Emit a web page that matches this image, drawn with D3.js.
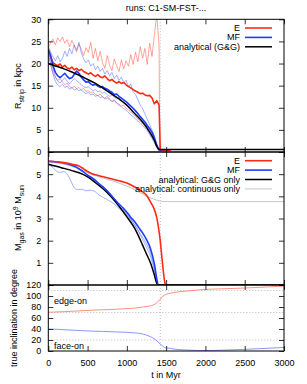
<!DOCTYPE html>
<html>
<head>
<meta charset="utf-8">
<script src="https://cdn.jsdelivr.net/npm/d3@7"></script>
<style>
body { margin: 0; background: #fff; }
text { font-family: "Liberation Sans", Arial, sans-serif; font-size: 9px; fill: #000; }
</style>
</head>
<body>
<svg width="307" height="384"></svg>
<script>
// ---- top panel: stripping radius (kpc), sampled every 30 Myr ----
const tTop = [0, 30, 60, 90, 120, 150, 180, 210, 240, 270, 300, 330, 360, 390, 420, 450,
    480, 510, 540, 570, 600, 630, 660, 690, 720, 750, 780, 810, 840, 870, 900, 930,
    960, 990, 1020, 1050, 1080, 1110, 1140, 1170, 1200, 1230, 1260, 1290, 1320, 1350, 1380, 1410];

const rE = [23.0, 21.5, 20.2, 19.8, 19.5, 19.9, 19.2, 19.6, 19.0, 18.8, 19.2, 18.6, 18.9, 18.4, 18.7, 18.2,
    17.9, 17.6, 17.9, 17.4, 17.1, 17.5, 17.0, 16.8, 17.2, 16.6, 16.1, 16.4, 15.9, 15.6, 15.9, 15.5,
    15.7, 15.2, 14.8, 14.5, 14.1, 13.8, 13.5, 13.2, 13.3, 12.9, 12.7, 12.8, 12.2, 10.9, 11.6, 10.6];
const rEThinHi = [23.5, 24.8, 25.5, 24.2, 25.8, 25.0, 26.0, 24.6, 25.4, 23.8, 25.2, 24.0, 22.6, 24.4, 23.2, 21.8,
    23.6, 22.5, 24.8, 21.2, 23.4, 20.6, 22.8, 20.2, 18.9, 21.8, 19.6, 18.4, 21.0, 19.5, 18.2, 20.8,
    18.8, 20.6, 19.4, 22.0, 19.8, 22.6, 20.4, 23.8, 21.2, 23.4, 19.8, 24.6, 21.6, 26.4, 31.0, 24.0];
const rEThinLo = [22.0, 19.5, 17.8, 16.9, 16.2, 16.6, 15.8, 15.2, 15.6, 14.8, 14.4, 14.9, 14.3, 14.6, 14.0, 14.4,
    13.7, 13.9, 13.3, 13.6, 13.0, 12.7, 13.1, 12.5, 12.2, 12.6, 11.9, 11.5, 11.8, 11.1, 10.8, 10.4,
    10.6, 9.9, 9.5, 9.0, 8.6, 8.0, 7.5, 7.0, 6.4, 5.9, 5.2, 4.6, 3.8, 2.8, 1.4, 0.4];
const rMF = [23.2, 21.8, 19.5, 18.0, 17.2, 16.8, 17.3, 17.8, 17.1, 16.6, 16.8, 17.5, 18.3, 17.8, 16.9, 16.3,
    15.8, 15.9, 15.4, 15.1, 15.3, 14.9, 14.6, 14.8, 14.4, 14.2, 13.8, 13.5, 13.0, 13.1, 12.6, 12.2,
    11.8, 11.4, 10.9, 10.4, 9.9, 9.3, 8.7, 8.0, 7.4, 6.8, 6.0, 5.3, 4.5, 3.2, 1.6, 0.5];
const rMFThinA = [23.8, 22.6, 21.5, 20.6, 21.8, 20.4, 21.2, 22.8, 21.6, 23.4, 22.2, 24.2, 23.0, 24.8, 22.4, 21.0,
    20.2, 20.8, 19.4, 20.0, 18.6, 19.4, 18.2, 18.9, 17.6, 18.4, 17.2, 18.0, 16.6, 17.4, 16.2, 16.9,
    15.6, 16.2, 14.8, 15.4, 13.6, 13.0, 11.8, 10.6, 9.8, 8.6, 7.4, 6.2, 5.0, 3.6, 1.6, 0.4];
const rMFThinB = [22.2, 20.0, 17.6, 16.0, 15.2, 14.8, 15.3, 14.6, 14.9, 14.2, 14.6, 14.0, 14.3, 13.8, 14.1, 13.5,
    13.2, 13.5, 12.9, 13.1, 12.6, 12.8, 12.3, 12.5, 12.0, 12.2, 11.8, 11.4, 11.6, 11.0, 10.6, 10.2,
    9.8, 9.5, 9.0, 8.4, 8.0, 7.5, 7.0, 6.6, 6.0, 5.4, 4.8, 3.9, 3.0, 2.1, 1.0, 0.3];
const rMFThinC = [22.8, 21.0, 18.8, 17.0, 16.0, 15.6, 16.2, 16.8, 16.0, 15.4, 16.0, 16.6, 16.1, 15.7, 15.2, 14.8,
    14.5, 14.8, 14.2, 13.9, 14.1, 13.6, 13.8, 13.3, 13.5, 13.0, 12.6, 12.9, 12.4, 12.0, 12.3, 11.6,
    11.2, 11.5, 10.8, 10.2, 9.7, 9.1, 8.6, 7.8, 7.3, 6.6, 5.8, 5.1, 4.2, 3.0, 1.4, 0.3];

// values after the drop
const rETail = [[1425, 0.4], [1440, 0.4], [1560, 0.4]];
const rEThinHiTail = [[1418, 0.3]];
const rMFTail = [[1450, 0.4]];

const rAnalytic = [[0, 20.0], [100, 19.4], [200, 18.8], [300, 18.1], [400, 17.3], [500, 16.4],
    [600, 15.5], [700, 14.4], [800, 13.2], [900, 12.0], [1000, 10.6], [1100, 8.7], [1200, 6.8],
    [1250, 5.6], [1300, 4.2], [1350, 2.6], [1380, 1.3], [1400, 0.7], [1420, 0.55], [3000, 0.55]];

// ---- middle panel: gas mass (1e9 Msun) ----
const mE = [[0, 5.58], [100, 5.56], [200, 5.52], [300, 5.45], [400, 5.35], [450, 5.24], [500, 5.12],
    [550, 5.03], [600, 4.97], [700, 4.88], [800, 4.79], [900, 4.70], [1000, 4.60], [1100, 4.42],
    [1200, 4.20], [1250, 4.05], [1300, 3.75], [1350, 3.40], [1380, 3.05], [1400, 2.65], [1420, 2.15],
    [1450, 1.10], [1475, 0.30], [1490, 0]];
const mMF = [[0, 5.58], [100, 5.55], [200, 5.50], [300, 5.40], [350, 5.33], [400, 5.22], [450, 5.10],
    [500, 4.95], [550, 4.85], [600, 4.72], [650, 4.55], [700, 4.42], [750, 4.25], [800, 4.05],
    [850, 3.85], [900, 3.65], [950, 3.48], [1000, 3.28], [1050, 3.05], [1100, 2.85], [1150, 2.60],
    [1200, 2.35], [1250, 2.05], [1300, 1.65], [1350, 0.95], [1380, 0.30], [1395, 0]];
const mMFThinA = [[0, 5.45], [60, 5.30], [100, 5.15], [150, 5.08], [200, 5.12], [250, 4.95], [300, 4.60],
    [330, 4.38], [380, 4.30], [430, 4.32], [480, 4.25], [530, 4.28], [600, 4.20], [650, 4.05],
    [700, 3.95], [750, 3.85], [800, 3.75], [850, 3.62], [900, 3.45], [950, 3.30], [1000, 3.15],
    [1050, 2.95], [1100, 2.70], [1150, 2.40], [1200, 2.05], [1250, 1.70], [1300, 1.30], [1350, 0.65],
    [1380, 0.15], [1390, 0]];
const mMFThinB = [[0, 5.55], [200, 5.45], [400, 5.20], [500, 4.95], [600, 4.70], [700, 4.40], [800, 4.00],
    [900, 3.55], [1000, 3.20], [1100, 2.70], [1200, 2.15], [1250, 1.85], [1300, 1.45], [1350, 0.75],
    [1390, 0]];
const mGG = [[0, 5.45], [100, 5.36], [200, 5.26], [300, 5.16], [400, 5.05], [500, 4.88], [600, 4.62],
    [700, 4.33], [800, 3.98], [900, 3.55], [1000, 3.08], [1100, 2.55], [1200, 1.80], [1250, 1.40],
    [1300, 1.00], [1350, 0.45], [1380, 0.08], [1400, 0], [3000, 0]];
const mCont = [[0, 5.58], [200, 5.52], [400, 5.33], [500, 5.05], [600, 4.93], [700, 4.82], [800, 4.72],
    [900, 4.60], [1000, 4.46], [1100, 4.30], [1200, 4.10], [1300, 3.93], [1380, 3.83], [1450, 3.77],
    [1500, 3.76], [3000, 3.76]];

// ---- bottom panel: inclination (degree) ----
const incEdge = [[0, 70.5], [200, 71.5], [400, 73], [600, 74.5], [800, 75.5], [1000, 77], [1100, 78],
    [1200, 80], [1300, 82], [1350, 84.5], [1400, 90], [1450, 98.5], [1500, 103], [1550, 105],
    [1600, 106.5], [1800, 109.5], [2000, 112], [2200, 113], [2500, 114.5], [2800, 116.5], [3000, 118]];
const incFace = [[0, 40], [100, 39.5], [300, 38], [500, 36.5], [700, 35.5], [900, 34.5], [1000, 34],
    [1100, 33], [1200, 31], [1300, 26], [1350, 22], [1400, 16], [1450, 9.5], [1500, 5.5], [1550, 5],
    [1600, 3.5], [1800, 1.5], [2000, 0.8], [2200, 1.5], [2500, 3], [2800, 5], [3000, 6.5]];

const xTicks = [0, 500, 1000, 1500, 2000, 2500, 3000];
const rTicks = [0, 5, 10, 15, 20, 25, 30];
const mTicks = [0, 1, 2, 3, 4, 5, 6];
const mTickLabels = [1, 2, 3, 4, 5];
const incTicks = [0, 20, 40, 60, 80, 100, 120];
const incGrid = [20, 70, 110];
const tPericentre = 1425;

const legendTop = ['E', 'MF', 'analytical (G&G)'];
const legendMid = ['E', 'MF', 'analytical: G&G only', 'analytical: continuous only'];

const red = '#ff2a14';
const redThin = 'rgba(255,90,70,0.6)';
const blue = '#1f3cff';
const blueThin = 'rgba(70,95,255,0.55)';
const grey = '#c4c4c4';

const svg = d3.select('svg');
const left = 48.3, right = 284;

const x = d3.scaleLinear().domain([0, 3000]).range([left, right]);
const yR = d3.scaleLinear().domain([0, 30]).range([152, 19.3]);
const yM = d3.scaleLinear().domain([0, 6]).range([285, 152]);
const yI = d3.scaleLinear().domain([0, 120]).range([351, 285]);

const zip = (ts, vs) => ts.map((t, i) => [t, vs[i]]);

function panel(id, y, yTicks, yLabels) {
    const top = y.range()[1], bottom = y.range()[0];
    svg.append('clipPath').attr('id', id)
        .append('rect')
        .attr('x', left).attr('y', top)
        .attr('width', right - left).attr('height', bottom - top);
    const g = svg.append('g');
    const plot = g.append('g').attr('clip-path', `url(#${id})`);

    // dotted vertical line at pericentre
    plot.append('line')
        .attr('x1', x(tPericentre)).attr('x2', x(tPericentre))
        .attr('y1', top).attr('y2', bottom)
        .attr('stroke', '#bbb')
        .attr('stroke-dasharray', '1,2');

    const axes = g.append('g');
    axes.append('g').attr('transform', `translate(${left},0)`)
        .call(d3.axisLeft(y).tickValues(yTicks).tickSize(-5).tickPadding(7)
            .tickFormat(d => yLabels.includes(d) ? d : ''));
    axes.append('g').attr('transform', `translate(${right},0)`)
        .call(d3.axisRight(y).tickValues(yTicks).tickSize(-5).tickFormat(''));
    axes.append('g').attr('transform', `translate(0,${top})`)
        .call(d3.axisTop(x).tickValues(xTicks).tickSize(-5).tickFormat(''));
    axes.append('g').attr('class', 'xaxis').attr('transform', `translate(0,${bottom})`)
        .call(d3.axisBottom(x).tickValues(xTicks).tickSize(-5).tickPadding(9).tickFormat(''));
    axes.selectAll('.domain').remove();
    axes.selectAll('.tick line').attr('stroke', '#000').attr('stroke-width', 0.8);
    axes.selectAll('.tick text').style('font-size', '9px').attr('fill', '#000')
        .style('font-family', '"Liberation Sans", Arial, sans-serif');

    g.append('rect')
        .attr('x', left).attr('y', top)
        .attr('width', right - left).attr('height', bottom - top)
        .attr('fill', 'none').attr('stroke', '#000').attr('stroke-width', 1);

    return { g, plot };
}

function addLine(parent, y, pts, color, width, curve) {
    parent.append('path')
        .datum(pts)
        .attr('fill', 'none')
        .attr('stroke', color)
        .attr('stroke-width', width)
        .attr('stroke-linejoin', 'round')
        .attr('d', d3.line().x(d => x(d[0])).y(d => y(d[1])).curve(curve || d3.curveLinear));
}

// ---- top ----
const pR = panel('clipR', yR, rTicks, rTicks);
addLine(pR.plot, yR, zip(tTop, rEThinHi).concat(rEThinHiTail), redThin, 0.9);
addLine(pR.plot, yR, zip(tTop, rEThinLo), redThin, 0.9);
addLine(pR.plot, yR, zip(tTop, rMFThinA), blueThin, 0.9);
addLine(pR.plot, yR, zip(tTop, rMFThinB), blueThin, 0.9);
addLine(pR.plot, yR, zip(tTop, rMFThinC), blueThin, 0.9);
addLine(pR.plot, yR, zip(tTop, rE).concat(rETail), red, 1.6);
addLine(pR.plot, yR, zip(tTop, rMF).concat(rMFTail), blue, 1.6);
addLine(pR.plot, yR, rAnalytic, '#000', 1.5, d3.curveMonotoneX);

// ---- middle ----
const pM = panel('clipM', yM, mTicks, mTickLabels);
addLine(pM.plot, yM, mCont, grey, 1, d3.curveMonotoneX);
addLine(pM.plot, yM, mMFThinA, blueThin, 0.9, d3.curveMonotoneX);
addLine(pM.plot, yM, mMFThinB, blueThin, 0.9, d3.curveMonotoneX);
addLine(pM.plot, yM, mGG, '#000', 1.5, d3.curveMonotoneX);
addLine(pM.plot, yM, mMF, blue, 1.6, d3.curveMonotoneX);
addLine(pM.plot, yM, mE, red, 1.6, d3.curveMonotoneX);

// ---- bottom ----
const pI = panel('clipI', yI, incTicks, incTicks);
pI.plot.selectAll('line.grid')
    .data(incGrid)
    .enter().append('line')
    .attr('class', 'grid')
    .attr('x1', left).attr('x2', right)
    .attr('y1', d => yI(d)).attr('y2', d => yI(d))
    .attr('stroke', '#bbb')
    .attr('stroke-dasharray', '1,2');
addLine(pI.plot, yI, incEdge, 'rgba(255,110,90,0.85)', 0.9, d3.curveMonotoneX);
addLine(pI.plot, yI, incFace, 'rgba(100,120,255,0.85)', 0.9, d3.curveMonotoneX);
pI.g.selectAll('.xaxis .tick text').text(d => d);

pI.g.append('text').attr('x', 54).attr('y', 304).text('edge-on');
pI.g.append('text').attr('x', 54).attr('y', 349).text('face-on');

// ---- legends ----
function legend(items, colors, widths, y0) {
    const lg = svg.append('g');
    items.forEach((label, i) => {
        const yy = y0 + i * 9.4;
        lg.append('text')
            .attr('x', 240).attr('y', yy + 3)
            .attr('text-anchor', 'end')
            .text(label);
        lg.append('line')
            .attr('x1', 245).attr('x2', 272)
            .attr('y1', yy).attr('y2', yy)
            .attr('stroke', colors[i])
            .attr('stroke-width', widths[i]);
    });
}
legend(legendTop, [red, blue, '#000'], [1.6, 1.6, 1.5], 28);
legend(legendMid, [red, blue, '#000', grey], [1.6, 1.6, 1.5, 1], 160.7);

// ---- titles and axis labels ----
svg.append('text')
    .attr('x', 166).attr('y', 10.5)
    .attr('text-anchor', 'middle')
    .text('runs: C1-SM-FST-...');

svg.append('text')
    .attr('x', 166).attr('y', 378)
    .attr('text-anchor', 'middle')
    .text('t in Myr');

const labR = svg.append('text')
    .attr('transform', 'translate(21,86) rotate(-90)')
    .attr('text-anchor', 'middle');
labR.append('tspan').text('R');
labR.append('tspan').attr('dy', 2.5).style('font-size', '7px').text('strip');
labR.append('tspan').attr('dy', -2.5).text(' in kpc');

const labM = svg.append('text')
    .attr('transform', 'translate(21,218) rotate(-90)')
    .attr('text-anchor', 'middle');
labM.append('tspan').text('M');
labM.append('tspan').attr('dy', 2.5).style('font-size', '7px').text('gas');
labM.append('tspan').attr('dy', -2.5).text(' in 10');
labM.append('tspan').attr('dy', -3.5).style('font-size', '7px').text('9');
labM.append('tspan').attr('dy', 3.5).text(' M');
labM.append('tspan').attr('dy', 2.5).style('font-size', '7px').text('sun');

svg.append('text')
    .attr('transform', 'translate(17,318) rotate(-90)')
    .attr('text-anchor', 'middle')
    .text('true inclination in degree');
</script>
</body>
</html>
